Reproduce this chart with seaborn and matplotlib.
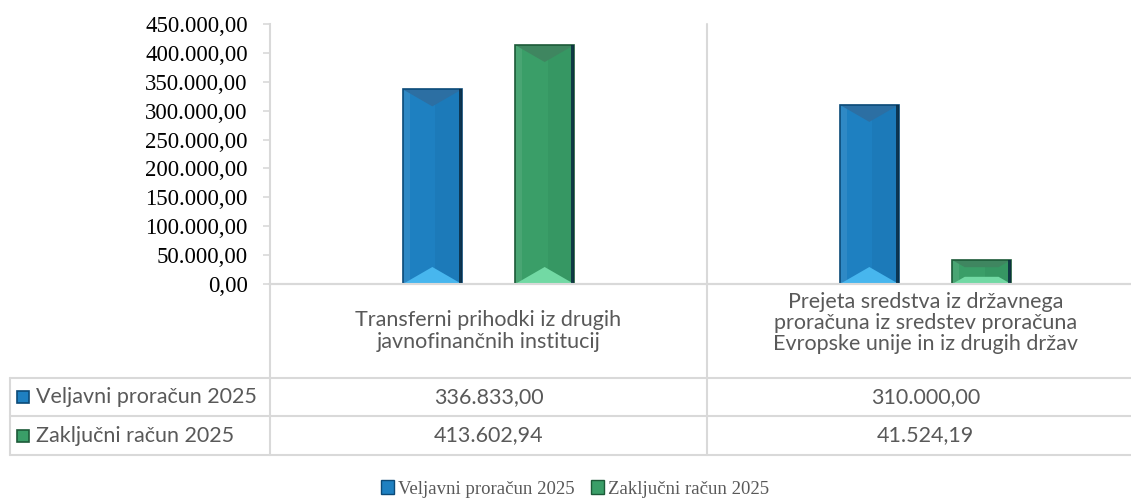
import numpy as np
import pandas as pd
import matplotlib
matplotlib.use('Agg')
import matplotlib.pyplot as plt
import seaborn as sns
from matplotlib.patches import Polygon, Rectangle, Patch
from matplotlib.lines import Line2D
from matplotlib.ticker import FuncFormatter
from matplotlib.transforms import blended_transform_factory

# data
categories = ['Transferni prihodki iz drugih\njavnofinančnih institucij',
              'Prejeta sredstva iz državnega\nproračuna iz sredstev proračuna\nEvropske unije in iz drugih držav']
series = ['Veljavni proračun 2025', 'Zaključni račun 2025']
veljavni = [336833.00, 310000.00]
zakljucni = [413602.94, 41524.19]
y_ticks = [0, 50000, 100000, 150000, 200000, 250000, 300000, 350000, 400000, 450000]

# colours: main, edge, top bevel, bottom bevel
colors = {
    series[0]: ('#1E80C1', '#0B4A78', '#2C6FA3', '#47B6EE'),
    series[1]: ('#3A9E68', '#1C5A38', '#3F8660', '#72D9A4'),
}

def fmt_si(v, pos=None):
    # slovenian number format: 1.234,56
    s = f"{v:,.2f}"
    return s.replace(',', 'X').replace('.', ',').replace('X', '.')

df = pd.DataFrame({
    'kategorija': categories * 2,
    'serija': [series[0]] * 2 + [series[1]] * 2,
    'vrednost': veljavni + zakljucni,
})

sns.set_style('white')
W, H = 1131, 499
fig = plt.figure(figsize=(W / 100, H / 100), dpi=100)

def fx(px):
    return px / W

def fy(py):
    return 1 - py / H

grid_c = '#D9D9D9'
text_c = '#595959'
sans = ['Lato', 'DejaVu Sans']
serif = ['Liberation Serif', 'DejaVu Serif']
tsize = 15.5

ax = fig.add_axes([fx(270), fy(284), fx(1144) - fx(270), fy(24) - fy(284)])
sns.barplot(data=df, x='kategorija', y='vrednost', hue='serija', order=categories,
            hue_order=series, palette={k: v[0] for k, v in colors.items()},
            width=0.514, gap=0.475, legend=False, ax=ax, saturation=1)

ax.set_xlim(-0.5, 1.5)
ax.set_ylim(0, 450000)
ax.set_yticks(y_ticks)
ax.yaxis.set_major_formatter(FuncFormatter(fmt_si))
ax.set_xticks([])
ax.set_xlabel('')
ax.set_ylabel('')
for t in ax.get_yticklabels():
    t.set_fontfamily(serif)
    t.set_fontsize(16.5)
    t.set_color('black')
ax.tick_params(axis='y', length=5, color=grid_c, width=1.2, pad=11, left=True)
for side in ['top', 'right']:
    ax.spines[side].set_visible(False)
ax.spines['left'].set_color(grid_c)
ax.spines['left'].set_linewidth(1.5)
ax.spines['bottom'].set_color(grid_c)
ax.spines['bottom'].set_linewidth(1.5)

# bevel look on the bars
px_per_y = 260 / 450000
for name, cont in zip(series, ax.containers):
    main, edge, top, bottom = colors[name]
    for bar in cont:
        bar.set_edgecolor('none')
        x0 = bar.get_x()
        bw = bar.get_width()
        x1 = x0 + bw
        h = bar.get_height()
        h_px = h * px_per_y
        dv_px = min(17, 0.3 * h_px)
        dv = dv_px / px_per_y
        dh = min(bw / 2, dv_px * 1.75 * (bw / 59))
        # soft vertical shading
        ax.add_patch(Rectangle((x0 + bw * 0.55, 0), bw * 0.45, h, facecolor=edge,
                               alpha=0.1, edgecolor='none', zorder=3))
        ax.add_patch(Rectangle((x0, 0), bw * 0.12, h, facecolor='white',
                               alpha=0.08, edgecolor='none', zorder=3))
        ax.add_patch(Polygon([(x0, 0), (x1, 0), (x1 - dh, dv), (x0 + dh, dv)],
                             closed=True, facecolor=bottom, edgecolor='none', zorder=3))
        ax.add_patch(Polygon([(x0, h), (x1, h), (x1 - dh, h - dv), (x0 + dh, h - dv)],
                             closed=True, facecolor=top, edgecolor='none', zorder=3))
        ax.add_patch(Rectangle((x0, 0), bw, h, facecolor='none',
                               edgecolor=edge, linewidth=1.2, zorder=4))
        ax.add_patch(Rectangle((x1 - bw * 0.045, 0), bw * 0.045, h, facecolor='#0A2A40',
                               alpha=0.85, edgecolor='none', zorder=4))

# table under the chart
tr = blended_transform_factory(ax.transData, fig.transFigure)
lw = 1.5
row_lines = [378, 416, 455]
for py in row_lines:
    fig.add_artist(Line2D([fx(10), 1], [fy(py), fy(py)], color=grid_c, lw=lw))
fig.add_artist(Line2D([fx(10), fx(10)], [fy(378), fy(455)], color=grid_c, lw=lw))
fig.add_artist(Line2D([fx(270), fx(270)], [fy(284), fy(455)], color=grid_c, lw=lw))
fig.add_artist(Line2D([fx(270), 1], [fy(284), fy(284)], color=grid_c, lw=lw))
fig.add_artist(Line2D([0.5, 0.5], [fy(24), fy(455)], color=grid_c, lw=lw, transform=tr))

header_y = [331, 323]
for i, cat in enumerate(categories):
    fig.text(i, fy(header_y[i]), cat, transform=tr, ha='center', va='center',
             fontsize=tsize, family=sans, color=text_c, linespacing=1.08)

row_vals = [veljavni, zakljucni]
for r, name in enumerate(series):
    yc = (row_lines[r] + row_lines[r + 1]) / 2
    main, edge, top, bottom = colors[name]
    fig.add_artist(Rectangle((fx(17), fy(yc + 6)), fx(12), fy(yc - 6) - fy(yc + 6),
                             facecolor=main, edgecolor=edge, lw=1.2, transform=fig.transFigure))
    fig.text(fx(36), fy(yc), name, ha='left', va='center', fontsize=tsize,
             family=sans, color=text_c)
    for i, v in enumerate(row_vals[r]):
        fig.text(i, fy(yc), fmt_si(v), transform=tr, ha='center', va='center',
                 fontsize=tsize, family=sans, color=text_c)

# legend at bottom
handles = [Patch(facecolor=colors[s][0], edgecolor=colors[s][1], label=s) for s in series]
leg = fig.legend(handles=handles, loc='center', bbox_to_anchor=(fx(575), fy(489)), ncol=2,
                 frameon=False, prop={'family': serif, 'size': 13.5},
                 handlelength=0.7, handleheight=0.7, handletextpad=0.2, columnspacing=0.9)
for t in leg.get_texts():
    t.set_color(text_c)

fig.savefig('out.png', dpi=100)
